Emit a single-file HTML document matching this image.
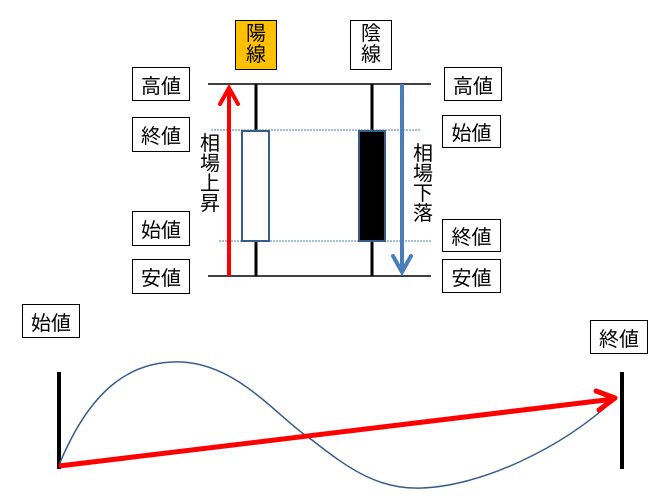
<!DOCTYPE html>
<html><head><meta charset="utf-8"><style>
html,body{margin:0;padding:0;background:#fff;}
body{width:670px;height:504px;position:relative;overflow:hidden;font-family:"Liberation Sans","Noto Sans CJK JP",sans-serif;}
.b{position:absolute;border:1px solid #000;background:#fff;box-sizing:border-box;font-size:20px;display:flex;align-items:center;justify-content:center;color:#000;}
.v{position:absolute;font-size:20px;line-height:20px;width:22px;text-align:center;}
</style></head><body>
<svg width="670" height="504" style="position:absolute;left:0;top:0">
<line x1="208" y1="84" x2="431" y2="84" stroke="#000" stroke-width="1.5"/>
<line x1="208" y1="276" x2="431" y2="276" stroke="#000" stroke-width="1.5"/>
<line x1="256" y1="84" x2="256" y2="276" stroke="#000" stroke-width="3"/>
<line x1="372" y1="84" x2="372" y2="276" stroke="#000" stroke-width="3"/>
<line x1="211" y1="130" x2="421" y2="130" stroke="#4a7ebb" stroke-width="1" stroke-dasharray="2,1"/>
<line x1="219" y1="241" x2="431" y2="241" stroke="#4a7ebb" stroke-width="1" stroke-dasharray="2,1"/>
<rect x="242" y="131" width="27" height="110" fill="#fff" stroke="#385d8a" stroke-width="2"/>
<rect x="359" y="131" width="26" height="110" fill="#000" stroke="#385d8a" stroke-width="2"/>
<line x1="229" y1="276" x2="229" y2="88" stroke="#f00" stroke-width="4"/>
<polyline points="220,104 229,88 238,104" fill="none" stroke="#f00" stroke-width="4" stroke-linecap="round"/>
<line x1="402" y1="84" x2="402" y2="272" stroke="#4a7ebb" stroke-width="4"/>
<polyline points="393,256 402,272 411,256" fill="none" stroke="#4a7ebb" stroke-width="4" stroke-linecap="round"/>
<line x1="59" y1="372" x2="59" y2="469" stroke="#000" stroke-width="4"/>
<line x1="622" y1="372" x2="622" y2="469" stroke="#000" stroke-width="4"/>
<path d="M59,465 C90,390 130,360 182,362 C240,365 280,420 312,440 C350,470 380,490 422,488 C480,486 560,450 616,398" fill="none" stroke="#385d8a" stroke-width="1.5"/>
<polygon points="616,396 610,398 614,402" fill="#385d8a"/>
<line x1="59" y1="466" x2="614" y2="399" stroke="#f00" stroke-width="5"/>
<polyline points="596,391 615,398 599,410" fill="none" stroke="#f00" stroke-width="5" stroke-linecap="round" stroke-linejoin="round"/>
</svg>
<div class="b" style="left:235px;top:20px;width:42px;height:50px;background:#ffc000;flex-direction:column;line-height:21px">陽<br>線</div>
<div class="b" style="left:350px;top:20px;width:42px;height:50px;flex-direction:column;line-height:21px">陰<br>線</div>
<div class="b" style="left:132px;top:67px;width:58px;height:34px">高値</div>
<div class="b" style="left:132px;top:117px;width:58px;height:35px">終値</div>
<div class="b" style="left:132px;top:211px;width:58px;height:35px">始値</div>
<div class="b" style="left:132px;top:259px;width:58px;height:35px">安値</div>
<div class="b" style="left:444px;top:67px;width:58px;height:34px">高値</div>
<div class="b" style="left:442px;top:115px;width:59px;height:33px">始値</div>
<div class="b" style="left:442px;top:219px;width:59px;height:33px">終値</div>
<div class="b" style="left:442px;top:259px;width:59px;height:34px">安値</div>
<div class="b" style="left:22px;top:304px;width:58px;height:34px">始値</div>
<div class="b" style="left:590px;top:320px;width:58px;height:34px">終値</div>
<div class="v" style="left:199px;top:134px">相<br>場<br>上<br>昇</div>
<div class="v" style="left:412px;top:144px">相<br>場<br>下<br>落</div>
</body></html>
